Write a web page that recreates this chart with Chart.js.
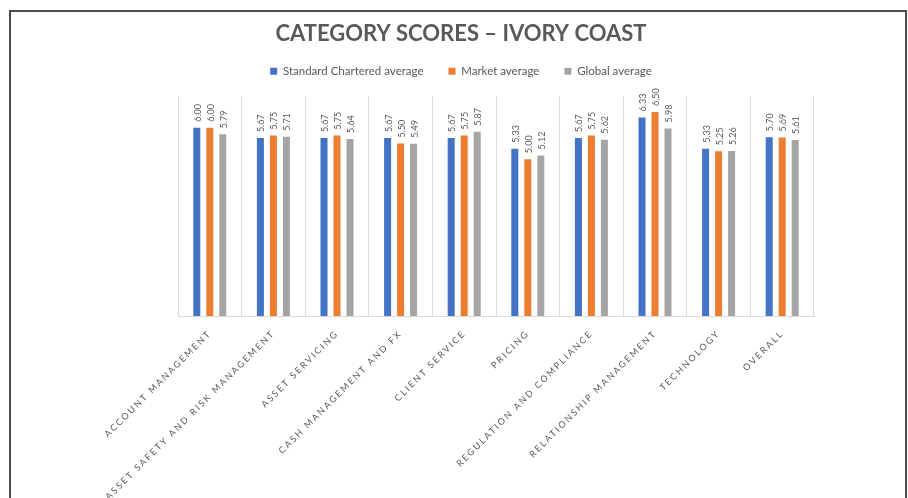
<!DOCTYPE html>
<html>
<head>
<meta charset="utf-8">
<script src="https://cdn.jsdelivr.net/npm/chart.js@4.4.1/dist/chart.umd.min.js"></script>
<style>
  body { margin: 0; background: #fff; overflow: hidden; }
  #frame {
    position: absolute; left: 9px; top: 10px; width: 898px; height: 600px;
    box-sizing: border-box; border: 2px solid #4d4d4d;
  }
  #GraficoScores { position: absolute; left: 0; top: 0; }
</style>
</head>
<body>
<div id="frame"></div>
<canvas id="GraficoScores" width="908" height="498"></canvas>
<script>
const categories = [
  'ACCOUNT MANAGEMENT',
  'ASSET SAFETY AND RISK MANAGEMENT',
  'ASSET SERVICING',
  'CASH MANAGEMENT AND FX',
  'CLIENT SERVICE',
  'PRICING',
  'REGULATION AND COMPLIANCE',
  'RELATIONSHIP MANAGEMENT',
  'TECHNOLOGY',
  'OVERALL'
];
const standardCharteredAvg = [6.00, 5.67, 5.67, 5.67, 5.67, 5.33, 5.67, 6.33, 5.33, 5.70];
const marketAvg = [6.00, 5.75, 5.75, 5.50, 5.75, 5.00, 5.75, 6.50, 5.25, 5.69];
const globalAvg = [5.79, 5.71, 5.64, 5.49, 5.87, 5.12, 5.62, 5.98, 5.26, 5.61];

const grisTexto = '#595959';
const fuente = 'Lato, "Open Sans", sans-serif';

// etiquetas de valor giradas encima de cada barra
const etiquetasBarras = {
  id: 'etiquetasBarras',
  afterDatasetsDraw(chart) {
    const ctx = chart.ctx;
    chart.data.datasets.forEach((ds, i) => {
      const meta = chart.getDatasetMeta(i);
      meta.data.forEach((bar, j) => {
        ctx.save();
        ctx.font = '9px ' + fuente;
        ctx.fillStyle = grisTexto;
        ctx.textAlign = 'left';
        ctx.textBaseline = 'middle';
        ctx.translate(bar.x + 1, bar.y - 6);
        ctx.rotate(-Math.PI / 2);
        ctx.fillText(ds.data[j].toFixed(2), 0, 0);
        ctx.restore();
      });
    });
    // espaciado de letras para las categorias (eje x dibujado despues)
    ctx.letterSpacing = '2px';
  },
  afterDraw(chart) {
    chart.ctx.letterSpacing = '0px';
  }
};

const ctx = document.getElementById('GraficoScores').getContext('2d');
new Chart(ctx, {
  type: 'bar',
  data: {
    labels: categories,
    datasets: [
      { label: 'Standard Chartered average', data: standardCharteredAvg, backgroundColor: '#4472C4' },
      { label: 'Market average', data: marketAvg, backgroundColor: '#ED7D31' },
      { label: 'Global average', data: globalAvg, backgroundColor: '#A5A5A5' }
    ]
  },
  options: {
    responsive: false,
    animation: false,
    devicePixelRatio: 1,
    categoryPercentage: 0.613,
    barPercentage: 0.54,
    layout: { padding: { left: 17, right: 3, top: 12, bottom: 0 } },
    plugins: {
      tooltip: { enabled: false },
      title: {
        display: true,
        text: 'CATEGORY SCORES – IVORY COAST',
        color: grisTexto,
        font: { family: fuente, size: 22, weight: 'bold', lineHeight: 1.2 },
        padding: { top: 9, bottom: -7 }
      },
      legend: {
        display: true,
        position: 'top',
        labels: {
          color: grisTexto,
          font: { family: fuente, size: 11.5 },
          boxWidth: 7,
          boxHeight: 7,
          padding: 25
        }
      }
    },
    scales: {
      x: {
        grid: { display: true, color: '#d9d9d9', drawTicks: false, offset: true },
        border: { display: true, color: '#d9d9d9' },
        ticks: {
          z: 1,
          color: grisTexto,
          font: { family: fuente, size: 9 },
          minRotation: 45,
          maxRotation: 45,
          autoSkip: false,
          padding: 12
        },
        afterFit(scale) { scale.height = 182; }
      },
      xTop: {
        type: 'category',
        position: 'top',
        display: true,
        grid: { display: false },
        border: { display: false },
        ticks: { display: false },
        afterFit(scale) { scale.height = 9.5; }
      },
      y: {
        min: 0,
        max: 7,
        display: true,
        grid: { display: false },
        border: { display: false },
        ticks: { display: false },
        afterFit(scale) { scale.width = 161; }
      },
      y2: {
        type: 'linear',
        position: 'right',
        display: true,
        grid: { display: false },
        border: { display: false },
        ticks: { display: false },
        afterFit(scale) { scale.width = 91; }
      }
    }
  },
  plugins: [etiquetasBarras]
});
</script>
</body>
</html>
